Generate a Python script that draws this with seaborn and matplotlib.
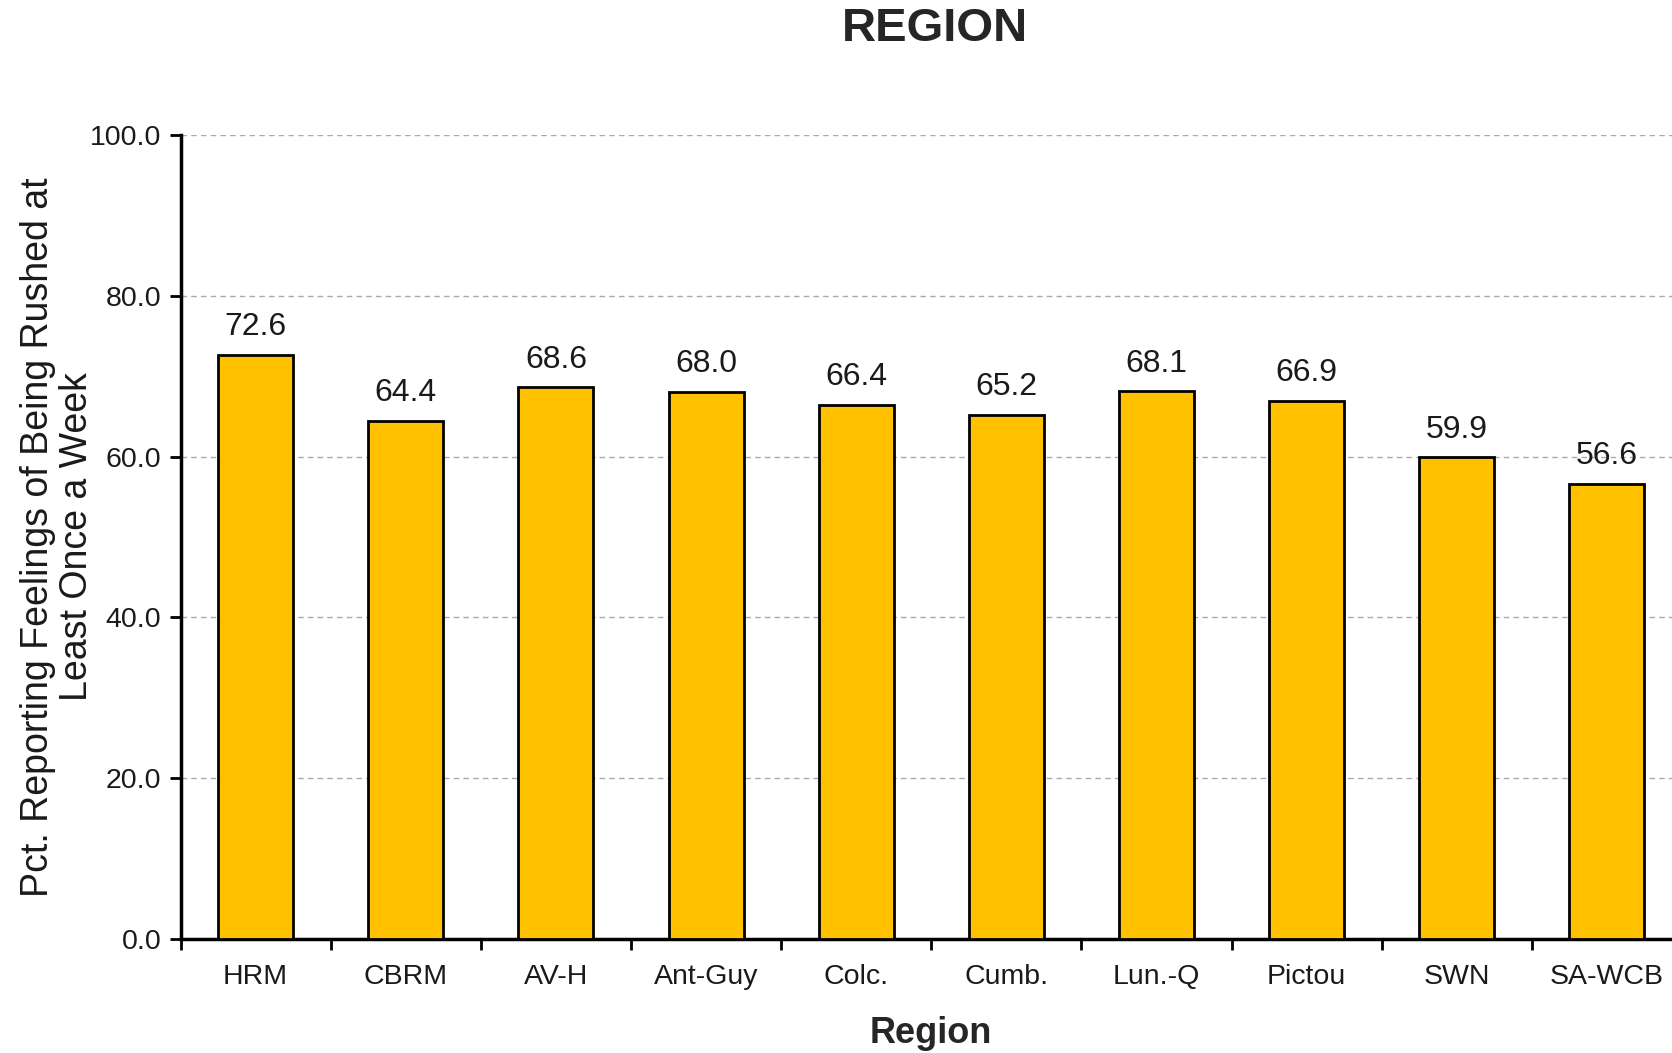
import numpy as np
import pandas as pd
import matplotlib
matplotlib.use('Agg')
import matplotlib.pyplot as plt
import seaborn as sns

regions = ['HRM', 'CBRM', 'AV-H', 'Ant-Guy', 'Colc.', 'Cumb.', 'Lun.-Q', 'Pictou', 'SWN', 'SA-WCB']
values = [72.6, 64.4, 68.6, 68.0, 66.4, 65.2, 68.1, 66.9, 59.9, 56.6]
y_ticks = [0, 20, 40, 60, 80, 100]

sns.set_style('white')
plt.rcParams['font.family'] = ['Liberation Sans', 'DejaVu Sans']

df = pd.DataFrame({'Region': regions, 'Pct': values})

fig = plt.figure(figsize=(16.72, 10.53), dpi=100)
ax = fig.add_axes([0.108, 0.1083, 0.898, 0.7635])

sns.barplot(data=df, x='Region', y='Pct', color='#FFC000', width=0.5,
            edgecolor='black', linewidth=2, saturation=1, ax=ax, zorder=3)

for i, v in enumerate(values):
    ax.text(i, v + 1.6, f'{v:.1f}', ha='center', va='bottom', fontsize=23, color='#1a1a1a')

ax.set_xlim(-0.5, len(regions) - 0.5)
ax.set_ylim(0, 100)
ax.set_yticks(y_ticks)
ax.set_yticklabels([f'{t:.1f}' for t in y_ticks], fontsize=20.5, color='#1a1a1a')
ax.yaxis.grid(True, linestyle=(0, (4, 3)), color='#aaaaaa', linewidth=1, zorder=0)
ax.set_axisbelow(True)

ax.set_xticks(range(len(regions)))
ax.set_xticklabels(regions, fontsize=20.5, color='#1a1a1a')
ax.set_xticks(np.arange(-0.5, len(regions)), minor=True)
ax.tick_params(axis='x', which='major', length=0, pad=18, bottom=True)
ax.tick_params(axis='x', which='minor', length=8, width=2, direction='out', color='black', bottom=True)
ax.tick_params(axis='y', length=8, width=2, direction='out', color='black', left=True, pad=6)

for s in ['top', 'right']:
    ax.spines[s].set_visible(False)
for s in ['left', 'bottom']:
    ax.spines[s].set_linewidth(2.5)
    ax.spines[s].set_color('black')

ax.set_xlabel('Region', fontsize=26, fontweight='bold', labelpad=19)
ax.set_ylabel('Pct. Reporting Feelings of Being Rushed at\nLeast Once a Week', fontsize=27,
              linespacing=1.12, color='#1a1a1a')
ax.yaxis.set_label_coords(-0.057, 0.5)

fig.text(0.559, 0.972, 'REGION', ha='center', va='center', fontsize=34, fontweight='bold')

fig.savefig('out.png', dpi=100)
